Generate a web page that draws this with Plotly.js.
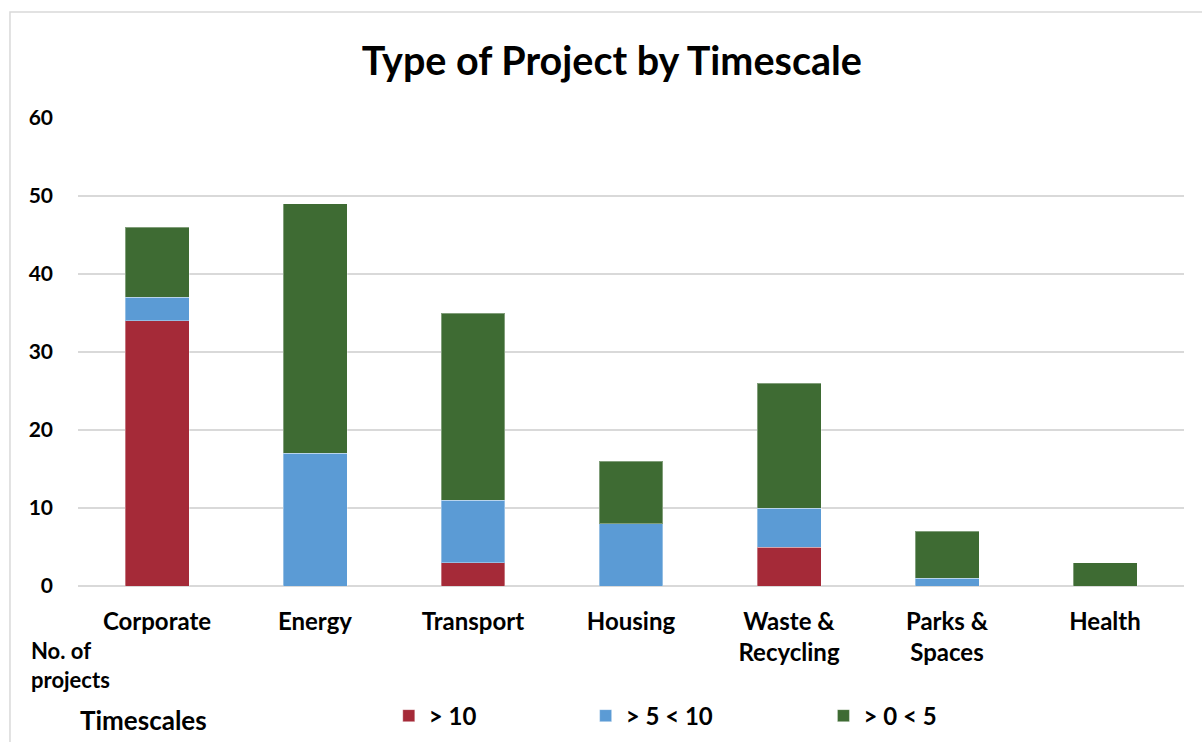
<!DOCTYPE html>
<html>
<head>
<meta charset="utf-8">
<script src="https://cdn.plot.ly/plotly-3.0.1.min.js"></script>
<style>html,body{margin:0;padding:0;background:#fff;}#chart{width:1202px;height:742px;}</style>
</head>
<body>
<div id="chart"></div>
<script>
const categories = ['Corporate', 'Energy', 'Transport', 'Housing', 'Waste &<br>Recycling', 'Parks &<br>Spaces', 'Health'];
const seriesNames = ['> 10', '> 5 < 10', '> 0 < 5'];
const over10 = [34, 0, 3, 0, 5, 0, 0];
const between5and10 = [3, 17, 8, 8, 5, 1, 0];
const between0and5 = [9, 32, 24, 8, 16, 6, 3];
const yTicks = [0, 10, 20, 30, 40, 50, 60];

const colors = ['#A52A38', '#5B9BD5', '#3E6B33'];
const FONT = 'Lato, "Open Sans", sans-serif';
const values = [over10, between5and10, between0and5];
const legends = ['legend', 'legend2', 'legend3'];

const traces = values.map((v, i) => ({
  type: 'bar',
  name: seriesNames[i],
  x: categories,
  y: v,
  marker: {color: colors[i], line: {color: 'rgba(255,255,255,0.35)', width: 1}},
  legend: legends[i],
  hoverinfo: 'x+y+name'
}));

const legendBase = {
  orientation: 'h',
  yref: 'container',
  yanchor: 'middle',
  xanchor: 'left',
  y: 0.035,
  bgcolor: 'rgba(0,0,0,0)',
  font: {family: FONT, size: 24, color: '#000', weight: 'bold'},
  itemwidth: 30
};

const layout = {
  width: 1202,
  height: 742,
  margin: {l: 78, r: 18, t: 118, b: 156},
  paper_bgcolor: '#fff',
  plot_bgcolor: '#fff',
  barmode: 'stack',
  bargap: 0.595,
  title: {
    text: 'Type of Project by Timescale',
    font: {family: FONT, size: 39.5, color: '#000', weight: 'bold'},
    xref: 'container', x: 0.509, xanchor: 'center', y: 0.918, yanchor: 'middle'
  },
  font: {family: FONT, color: '#000'},
  xaxis: {
    tickfont: {family: FONT, size: 24, color: '#000', weight: 'bold'},
    showgrid: false,
    showline: false,
    ticks: '',
    ticklabelstandoff: 19,
    fixedrange: true
  },
  yaxis: {
    range: [0, 60],
    tickvals: yTicks,
    ticktext: yTicks.map(String),
    tickfont: {family: FONT, size: 21, color: '#000', weight: 'bold'},
    showgrid: true,
    gridcolor: '#d9d9d9',
    gridwidth: 1.5,
    zeroline: true,
    zerolinecolor: '#d9d9d9',
    zerolinewidth: 1.5,
    ticks: '',
    ticklabelstandoff: 24,
    fixedrange: true
  },
  showlegend: true,
  legend: Object.assign({}, legendBase, {x: 0.281}),
  legend2: Object.assign({}, legendBase, {x: 0.459}),
  legend3: Object.assign({}, legendBase, {x: 0.674}),
  annotations: [
    {text: 'No. of<br>projects', xref: 'paper', yref: 'paper', x: -0.044, y: -0.105, xanchor: 'left', yanchor: 'top', align: 'left', showarrow: false,
     font: {family: FONT, size: 22, color: '#000', weight: 'bold'}},
    {text: 'Timescales', xref: 'paper', yref: 'paper', x: 0.0, y: -0.2855, xanchor: 'left', yanchor: 'middle', align: 'left', showarrow: false,
     font: {family: FONT, size: 26, color: '#000', weight: 'bold'}}
  ],
  shapes: [
    {type: 'rect', xref: 'paper', yref: 'paper', x0: -0.0615, x1: 1.05, y0: -0.4, y1: 1.2265,
     line: {color: '#d9d9d9', width: 1.5}, fillcolor: 'rgba(0,0,0,0)', layer: 'below'}
  ]
};

Plotly.newPlot('chart', traces, layout, {displayModeBar: false, responsive: false});
</script>
</body>
</html>
